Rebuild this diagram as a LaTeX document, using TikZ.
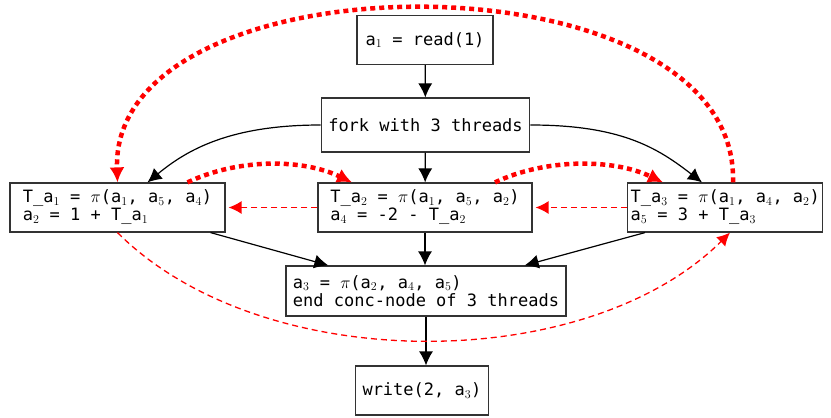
\documentclass[tikz,border=0pt]{standalone}
\usepackage[no-math]{fontspec}
\setmonofont{DejaVu Sans Mono}
\DeclareMathSizes{17}{17}{12.5}{9}
\usetikzlibrary{arrows.meta,calc}
\begin{document}
\begin{tikzpicture}[x=1pt,y=-1pt,
  box/.style={draw=black!80, line width=1.2pt, fill=white,
    font=\ttfamily\fontsize{17}{18}\selectfont, align=left,
    inner xsep=7pt, inner ysep=3pt, minimum height=49pt},
  flow/.style={draw=black, line width=1.2pt, -{Latex[length=14pt,width=14pt]}},
  dep/.style={draw=red, line width=1.3pt, dash pattern=on 6pt off 4pt, -{Latex[length=13pt,width=13pt]}},
  pass/.style={draw=red, line width=4.5pt, dash pattern=on 5pt off 4pt, -{Latex[length=15pt,width=15pt]}}
]
\useasboundingbox (0,0) rectangle (831,418);

% nodes
\node[box, minimum width=136pt] (a1) at (425,40) {a$_1$ = read(1)};
\node[box, minimum width=205pt, minimum height=54pt] (fork) at (425.5,125) {fork with 3 threads};
\node[box, minimum width=215pt] (t1) at (117.5,207.5)
  {T\_a$_1$ = $\pi$(a$_1$, a$_5$, a$_4$)\\a$_2$ = 1 + T\_a$_1$};
\node[box, minimum width=214pt] (t2) at (425,207.5)
  {T\_a$_2$ = $\pi$(a$_1$, a$_5$, a$_2$)\\a$_4$ = -2 - T\_a$_2$};
\node[box, anchor=west, inner xsep=3pt] (t3) at (627,207.5)
  {T\_a$_3$ = $\pi$(a$_1$, a$_4$, a$_2$)\\a$_5$ = 3 + T\_a$_3$};
\node[box, minimum width=278pt, minimum height=50pt] (a3) at (426,291)
  {a$_3$ = $\pi$(a$_2$, a$_4$, a$_5$)\\end conc-node of 3 threads};
\node[box, minimum width=124pt] (w) at (422,390.5) {write(2, a$_3$)};

% named end points
\coordinate (t1a) at ([xshift=30pt]t1.north);
\coordinate (t3a) at ([xshift=75pt]t3.north west);
\coordinate (t1b) at ([xshift=-15pt]t1.south east);
\coordinate (a3l) at ([xshift=43pt]a3.north west);
\coordinate (t3b) at ([xshift=18pt]t3.south west);
\coordinate (a3r) at ([xshift=-42pt]a3.north east);
\coordinate (t1e) at ([xshift=3pt]t1.east);
\coordinate (t2e) at ([xshift=3pt]t2.east);
\coordinate (t3s) at ([xshift=103pt]t3.south west);
\coordinate (t3n) at ([xshift=106pt]t3.north west);
\coordinate (t1r) at ([xshift=70pt]t1.north);
\coordinate (t2l) at ([xshift=-73pt]t2.north);
\coordinate (t2r) at ([xshift=70pt]t2.north);
\coordinate (t3l) at ([xshift=36pt]t3.north west);

% control flow
\draw[flow] (a1) -- (fork);
\draw[flow] (fork) -- (t2);
\draw[flow] (fork.west) .. controls +(-90,0) and +(40,-33) .. (t1a);
\draw[flow] (fork.east) .. controls +(90,0) and +(-45,-35) .. (t3a);
\draw[flow] (t1b) -- (a3l);
\draw[flow] (t2.south) -- (t2.south |- a3.north);
\draw[flow] (t3b) -- (a3r);
\draw[flow] (a3.south) -- (a3.south |- w.north);

% data dependencies
\draw[dep] (t2.west) -- (t1e);
\draw[dep] (t3.west) -- (t2e);
\draw[dep] (t1.south) .. controls +(144,144) and +(-144,143) .. (t3s);

% thread passing
\draw[pass] (t3n) .. controls +(7,-233) and +(-8,-231) .. (t1.north);
\draw[pass] (t1r) .. controls +(50,-24) and +(-50,-24) .. (t2l);
\draw[pass] (t2r) .. controls +(50,-24) and +(-50,-24) .. (t3l);
\end{tikzpicture}
\end{document}
